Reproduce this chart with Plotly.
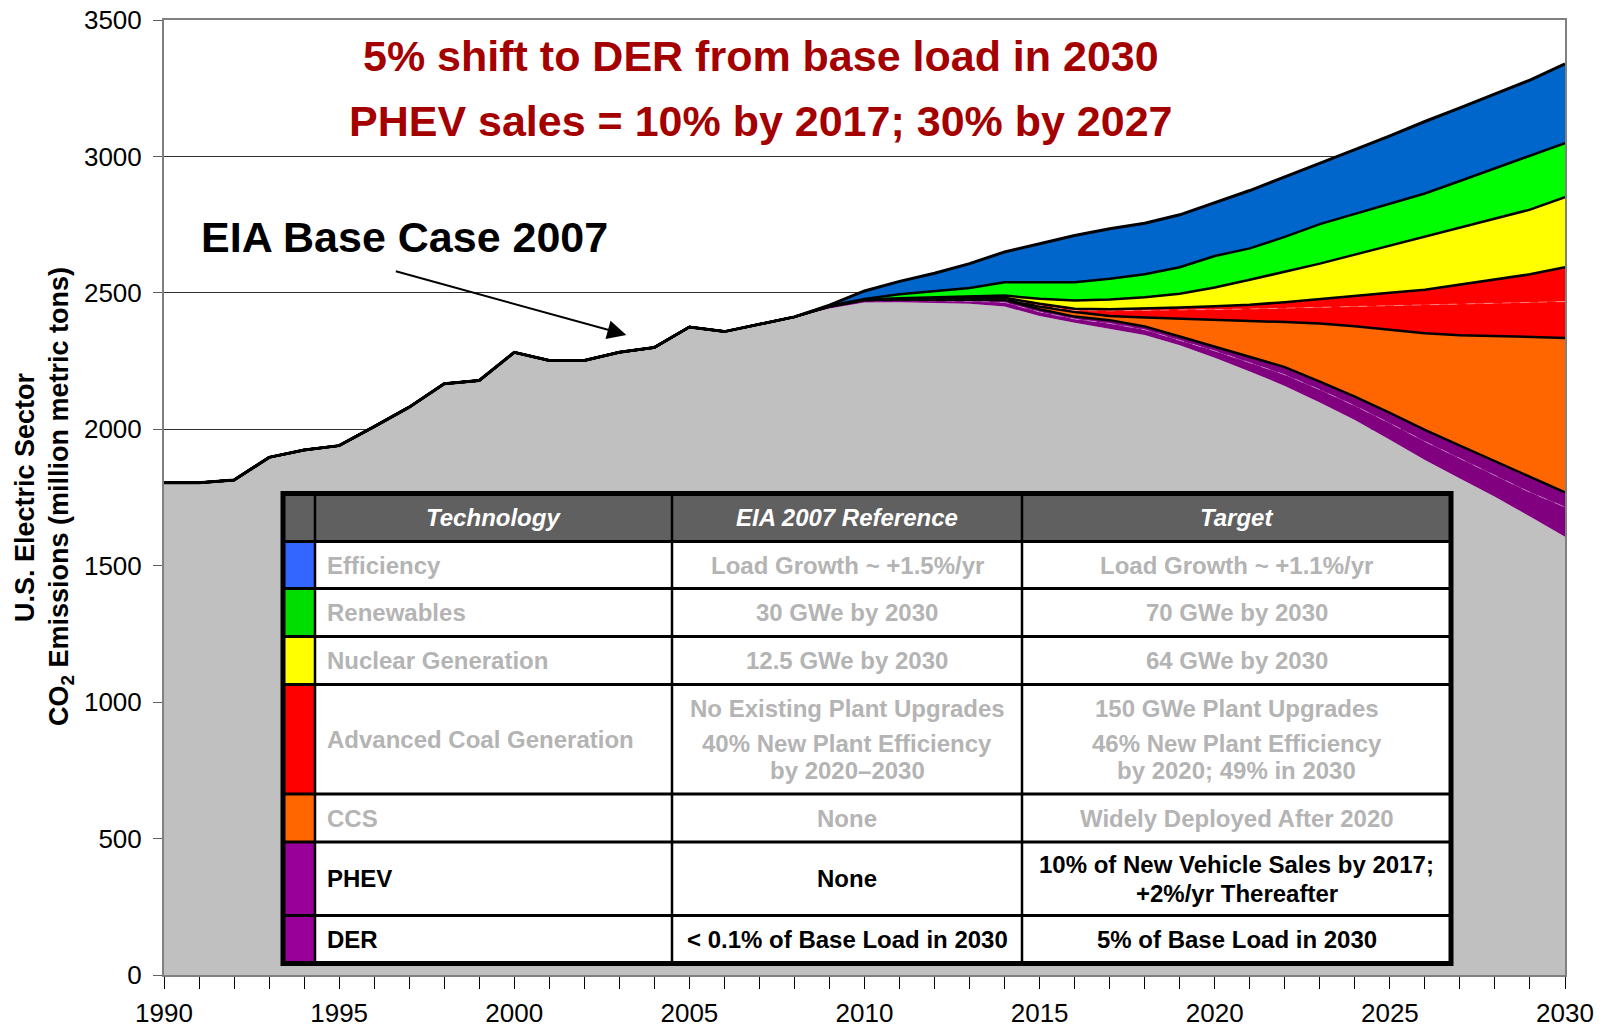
import plotly.graph_objects as go


# ==========================================
# DATA
# ==========================================

years = list(range(1990, 2031))

# historical emissions 1990-2008 (all layers share it)
history = [1804, 1804, 1814, 1897, 1924, 1940, 2010, 2081, 2167, 2179,
           2282, 2252, 2252, 2282, 2300, 2375, 2358, 2384, 2412]

# layer tops 2009-2030, bottom to top
base_top = [2443, 2465, 2466, 2463, 2460, 2450, 2415, 2390, 2368, 2346, 2308,
            2262, 2212, 2159, 2098, 2034, 1962, 1887, 1820, 1753, 1680, 1606]
der_top = [2447, 2470, 2472, 2471, 2469, 2465, 2430, 2404, 2388, 2365, 2327,
           2287, 2244, 2200, 2145, 2086, 2022, 1955, 1893, 1832, 1769, 1715]
phev_top = [2450, 2474, 2476, 2476, 2475, 2474, 2440, 2413, 2400, 2377, 2340,
            2303, 2266, 2228, 2175, 2120, 2060, 1998, 1940, 1882, 1825, 1769]
ccs_top = [2450, 2474, 2477, 2478, 2478, 2476, 2450, 2430, 2415, 2410, 2405,
           2401, 2397, 2393, 2388, 2378, 2366, 2352, 2345, 2341, 2338, 2335]
coal_mid = [2451, 2475, 2478, 2479, 2480, 2479, 2455, 2435, 2434, 2435, 2437,
            2439, 2441, 2444, 2447, 2450, 2453, 2456, 2459, 2462, 2465, 2468]
coal_top = [2451, 2475, 2478, 2480, 2482, 2482, 2460, 2442, 2440, 2442, 2446,
            2451, 2456, 2466, 2478, 2490, 2500, 2511, 2530, 2548, 2568, 2594]
nuclear_top = [2452, 2476, 2480, 2483, 2486, 2490, 2478, 2472, 2476, 2484, 2497,
               2520, 2548, 2578, 2607, 2640, 2673, 2706, 2738, 2770, 2805, 2851]
renew_top = [2453, 2478, 2495, 2506, 2518, 2539, 2539, 2539, 2552, 2568, 2594,
             2635, 2663, 2705, 2752, 2790, 2828, 2864, 2910, 2957, 3003, 3049]
eff_top = [2455, 2507, 2542, 2572, 2607, 2650, 2680, 2710, 2735, 2755, 2786,
           2830, 2875, 2925, 2976, 3025, 3075, 3128, 3178, 3228, 3280, 3339]

# table content
tech_names = ["Efficiency", "Renewables", "Nuclear Generation",
              "Advanced Coal Generation", "CCS", "PHEV", "DER"]
eia_ref = [["Load Growth ~ +1.5%/yr"], ["30 GWe by 2030"], ["12.5 GWe by 2030"],
           ["No Existing Plant Upgrades", "40% New Plant Efficiency", "by 2020\u20132030"],
           ["None"], ["None"], ["< 0.1% of Base Load in 2030"]]
target = [["Load Growth ~ +1.1%/yr"], ["70 GWe by 2030"], ["64 GWe by 2030"],
          ["150 GWe Plant Upgrades", "46% New Plant Efficiency", "by 2020; 49% in 2030"],
          ["Widely Deployed After 2020"],
          ["10% of New Vehicle Sales by 2017;", "+2%/yr Thereafter"],
          ["5% of Base Load in 2030"]]
swatch_colors = ["#3366FF", "#00DD00", "#FFFF00", "#FF0000", "#FF6600", "#990099", "#990099"]


FONT = "Liberation Sans, Arial, sans-serif"

# page body has an 8px margin, so the figure is drawn 8px smaller
PAGE_PAD = 8
W, H = 1602 - PAGE_PAD, 1027 - PAGE_PAD

# plot area in screen pixels
X0, X1 = 164, 1565
Y0, Y1 = 20, 975


def px_x(px):
    return (px - X0) / (X1 - X0)


def px_y(py):
    return (Y1 - py) / (Y1 - Y0)


# ==========================================
# AREA LAYERS
# ==========================================

fig = go.Figure()

faint_purple = dict(width=1, color="rgba(235,200,235,0.45)", dash="dash")
faint_red = dict(width=1, color="rgba(255,210,210,0.5)", dash="dash")
black_line = dict(width=2.5, color="black")

layers = [
    (base_top, "#C0C0C0", dict(width=0), "tozeroy"),
    (der_top, "#800080", faint_purple, "tonexty"),
    (phev_top, "#800080", black_line, "tonexty"),
    (ccs_top, "#FF6600", black_line, "tonexty"),
    (coal_mid, "#FF0000", faint_red, "tonexty"),
    (coal_top, "#FF0000", black_line, "tonexty"),
    (nuclear_top, "#FFFF00", black_line, "tonexty"),
    (renew_top, "#00FF00", black_line, "tonexty"),
    (eff_top, "#0066CC", dict(width=3, color="black"), "tonexty"),
]

for top, color, line, fill in layers:
    fig.add_trace(
        go.Scatter(
            x=years,
            y=history + top,
            mode="lines",
            fill=fill,
            fillcolor=color,
            line=line,
            hoverinfo="skip",
            showlegend=False
        )
    )


# ==========================================
# TABLE
# ==========================================

col_px = [283, 315, 672, 1022, 1451]
row_px = [493.5, 541.5, 588.5, 636.5, 684.5, 794, 842, 915.5, 963.5]

shapes = []
annotations = []


def rect(x0, y0, x1, y1, fill, line_w=0, line_c="black"):
    shapes.append(dict(
        type="rect", xref="paper", yref="paper", layer="above",
        x0=px_x(x0), x1=px_x(x1), y0=px_y(y1), y1=px_y(y0),
        fillcolor=fill, line=dict(width=line_w, color=line_c)
    ))


def hline(x0, x1, y, w):
    shapes.append(dict(
        type="line", xref="paper", yref="paper", layer="above",
        x0=px_x(x0), x1=px_x(x1), y0=px_y(y), y1=px_y(y),
        line=dict(width=w, color="black")
    ))


def vline(x, y0, y1, w):
    shapes.append(dict(
        type="line", xref="paper", yref="paper", layer="above",
        x0=px_x(x), x1=px_x(x), y0=px_y(y0), y1=px_y(y1),
        line=dict(width=w, color="black")
    ))


def text(px, py, s, color, size=24, anchor="center"):
    annotations.append(dict(
        xref="paper", yref="paper", x=px_x(px), y=px_y(py),
        text=s, showarrow=False, xanchor=anchor, yanchor="middle",
        font=dict(family=FONT, size=size, color=color)
    ))


rect(col_px[0], row_px[0], col_px[-1], row_px[-1], "white")
rect(col_px[0], row_px[0], col_px[-1], row_px[1], "#606060")

for i, c in enumerate(swatch_colors):
    rect(col_px[0], row_px[i + 1], col_px[1], row_px[i + 2], c)

for y in row_px[1:-1]:
    hline(col_px[0], col_px[-1], y, 3)
for x in col_px[1:-1]:
    vline(x, row_px[0], row_px[-1], 2.5)

rect(col_px[0], row_px[0], col_px[-1], row_px[-1], "rgba(0,0,0,0)", 5)

headers = ["Technology", "EIA 2007 Reference", "Target"]
for j, h in enumerate(headers):
    cx = (col_px[j + 1] + col_px[j + 2]) / 2
    text(cx, 517, "<b><i>" + h + "</i></b>", "white")

line_gap = {1: [0], 2: [-14.5, 14.5], 3: [-31, 4, 31]}

for i in range(len(tech_names)):
    cy = (row_px[i + 1] + row_px[i + 2]) / 2
    color = "black" if tech_names[i] in ("PHEV", "DER") else "#B4B4B4"
    text(325, cy, "<b>" + tech_names[i] + "</b>", color, anchor="left")
    for j, cell in enumerate([eia_ref[i], target[i]]):
        cx = (col_px[j + 2] + col_px[j + 3]) / 2
        offs = line_gap[len(cell)]
        for k, s in enumerate(cell):
            text(cx, cy + offs[k], "<b>" + s + "</b>", color)


# ==========================================
# TITLES AND LABELS
# ==========================================

text(761, 56, "<b>5% shift to DER from base load in 2030</b>", "#A50000", 43)
text(761, 121, "<b>PHEV sales = 10% by 2017; 30% by 2027</b>", "#A50000", 43)
text(404, 237, "<b>EIA Base Case 2007</b>", "black", 43)

annotations.append(dict(
    x=2003.2, y=2346, xref="x", yref="y",
    ax=-232, ay=-64, text="", showarrow=True,
    arrowhead=2, arrowsize=1.9, arrowwidth=2, arrowcolor="black"
))

for px, s in [(25, "<b>U.S. Electric Sector</b>"),
              (61, "<b>CO<sub>2</sub> Emissions (million metric tons)</b>")]:
    annotations.append(dict(
        xref="paper", yref="paper", x=px_x(px), y=px_y(497),
        text=s, textangle=-90, showarrow=False,
        xanchor="center", yanchor="middle",
        font=dict(family=FONT, size=27, color="black")
    ))


# ==========================================
# LAYOUT
# ==========================================

fig.update_layout(
    width=W,
    height=H,
    margin=dict(l=X0 - PAGE_PAD, r=W - (X1 - PAGE_PAD),
                t=Y0 - PAGE_PAD, b=H - (Y1 - PAGE_PAD)),
    paper_bgcolor="white",
    plot_bgcolor="white",
    shapes=shapes,
    annotations=annotations,
    font=dict(family=FONT, size=26, color="black"),
    xaxis=dict(
        range=[1990, 2030],
        tick0=1990,
        dtick=5,
        ticks="outside",
        ticklen=12,
        tickcolor="black",
        showgrid=False,
        showline=True,
        linecolor="#808080",
        linewidth=2,
        mirror=True,
        automargin=False,
        ticklabelstandoff=2,
        ticklabeloverflow="allow",
        minor=dict(dtick=1, ticks="outside", ticklen=12, tickcolor="black"),
        zeroline=False
    ),
    yaxis=dict(
        range=[0, 3500],
        dtick=500,
        ticks="outside",
        ticklen=9,
        tickcolor="#606060",
        showgrid=True,
        gridcolor="#303030",
        gridwidth=1,
        showline=True,
        linecolor="#808080",
        linewidth=2,
        mirror=True,
        automargin=False,
        ticklabelstandoff=6,
        ticklabeloverflow="allow",
        zeroline=False
    )
)

fig.write_html("out.html")
